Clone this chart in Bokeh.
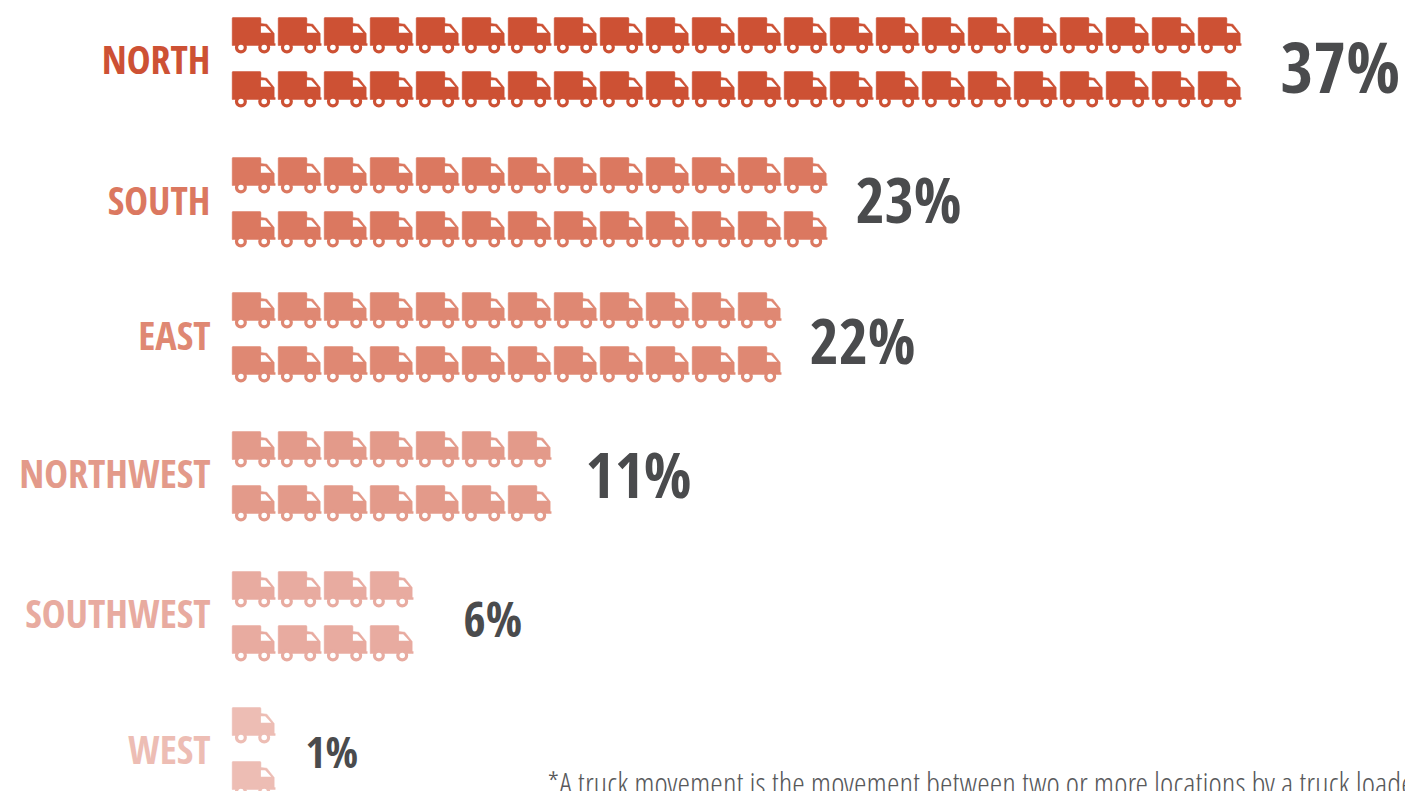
from bokeh.core.properties import value
from bokeh.embed import file_html
from bokeh.models import ColumnDataSource, Range1d
from bokeh.plotting import figure
from bokeh.resources import INLINE

regions = ["NORTH", "SOUTH", "EAST", "NORTHWEST", "SOUTHWEST", "WEST"]
trucks_per_row = [22, 13, 12, 7, 4, 1]
percents = ["37%", "23%", "22%", "11%", "6%", "1%"]
colors = ["#CD5134", "#DB7860", "#DF8873", "#E39A8A", "#E8ABA0", "#EDBDB4"]
row_tops = [17, 157, 292, 431, 571, 707]
label_y = [58, 199, 334, 472, 612, 748]
percent_x = [1280, 855, 809, 585, 463, 305]
percent_y = [65, 198, 339, 473, 618, 751]
percent_size = [71, 63, 63, 63, 48, 43]
footnote = "*A truck movement is the movement between two or more locations by a truck loaded"

BOLD_FONT = value("Open Sans Condensed")
LIGHT_FONT = value("Open Sans Condensed Light")
PITCH, ROW_GAP, LEFT = 46, 54, 231.7

body = [(0, 0.5), (0.5, 0), (28, 0), (28.7, 0.7), (28.7, 6), (34.7, 6.7), (42, 16), (42, 26), (43, 26), (43, 28), (0, 28)]
window = [(28.7, 8.7), (33, 8.7), (39, 15.3), (28.7, 15.3)]
wheels = [(8.7, 30), (32, 30)]

bx, by, wx, wy, cx, cy, cc = [], [], [], [], [], [], []
for count, top, color in zip(trucks_per_row, row_tops, colors):
    for row in range(2):
        for i in range(count):
            x0, y0 = LEFT + i * PITCH, top + row * ROW_GAP
            bx.append([x0 + a for a, _ in body])
            by.append([y0 + b for _, b in body])
            wx.append([x0 + a for a, _ in window])
            wy.append([y0 + b for _, b in window])
            for a, b in wheels:
                cx.append(x0 + a)
                cy.append(y0 + b)
                cc.append(color)
bc = [c for n, c in zip(trucks_per_row, colors) for _ in range(2 * n)]

p = figure(width=1405, height=791, output_backend="svg", toolbar_location=None,
           x_range=Range1d(0, 1405), y_range=Range1d(791, 0),
           min_border=0, outline_line_color=None, x_axis_type=None, y_axis_type=None)
p.grid.visible = False
p.background_fill_color = "white"
p.border_fill_color = "white"

p.patches(bx, by, fill_color=bc, line_color=bc, line_width=0.5)
p.patches(wx, wy, fill_color="white", line_color=None)
p.circle(cx, cy, radius=4.4, fill_color="white", line_color=cc, line_width=3.2)

p.text(x=[210] * 6, y=label_y, text=regions, text_color=colors, text_align="right",
       text_baseline="middle", text_font=BOLD_FONT, text_font_style="bold", text_font_size="40px")
src = ColumnDataSource(dict(x=percent_x, y=percent_y, t=percents,
                            s=[f"{v}px" for v in percent_size]))
p.text(x="x", y="y", text="t", source=src, text_color="#4A4B4D", text_align="left",
       text_baseline="middle", text_font=BOLD_FONT, text_font_style="bold", text_font_size="s")
p.text(x=[547], y=[782], text=[footnote], text_color="#58595B", text_align="left",
       text_baseline="middle", text_font=LIGHT_FONT, text_font_size="32px")

open("out.html", "w").write(file_html(p, INLINE))
